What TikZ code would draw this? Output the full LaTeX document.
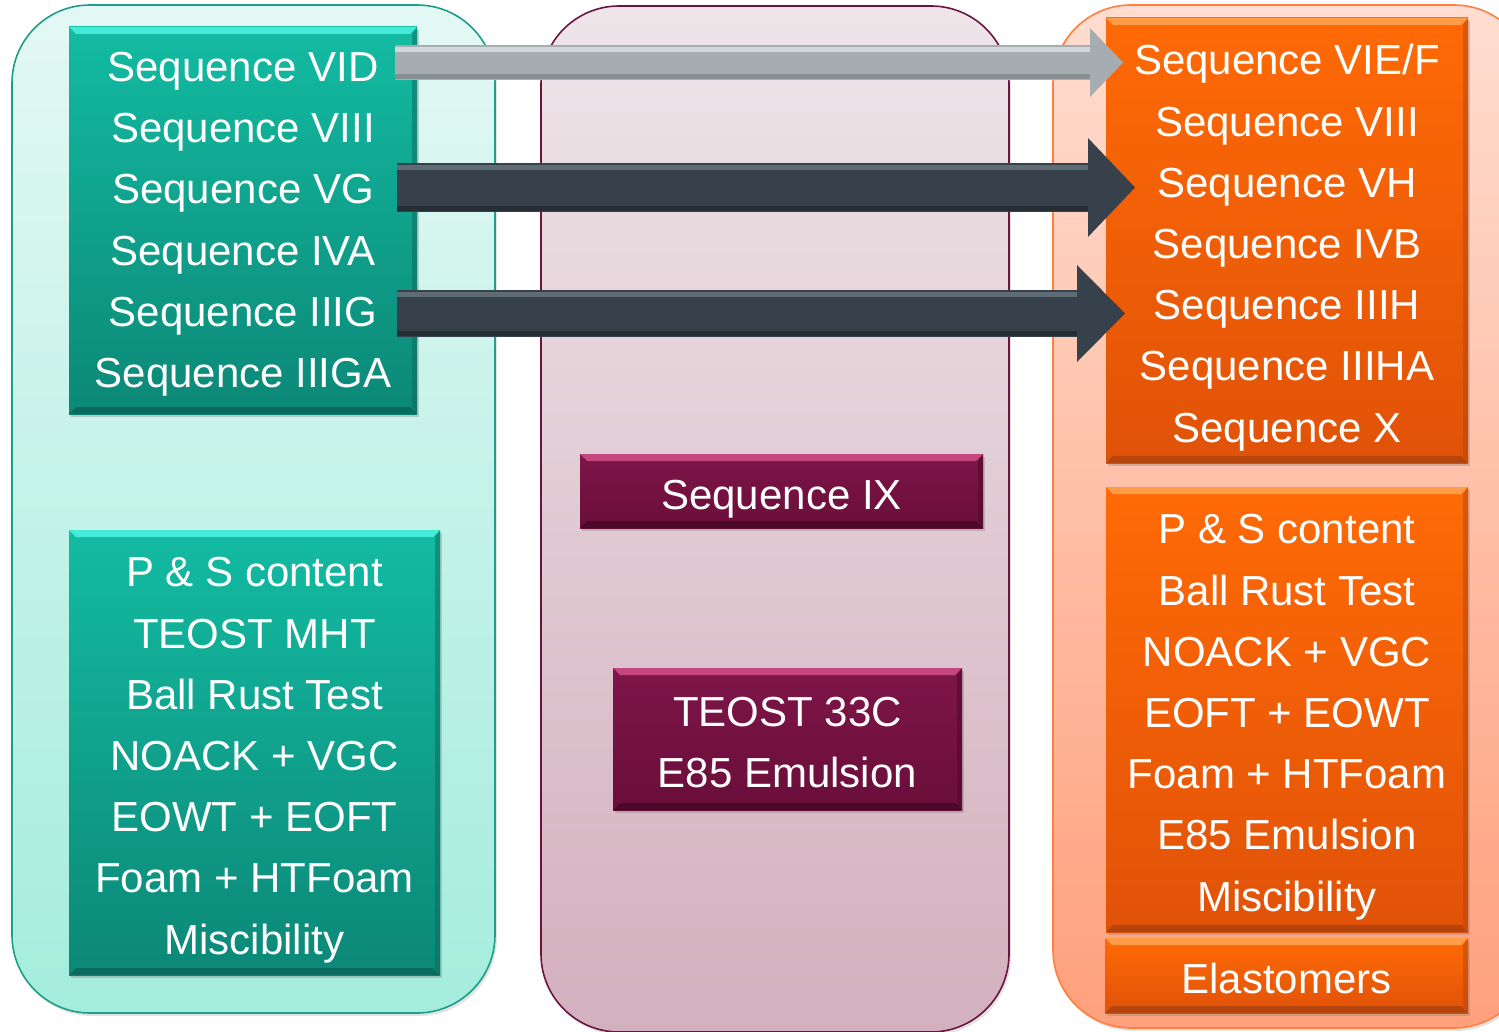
\documentclass[tikz,border=0pt]{standalone}
\usepackage{fontspec}
\setmainfont{Liberation Sans}
\usetikzlibrary{arrows.meta,shadows}
\definecolor{tealT}{HTML}{13BBA2}
\definecolor{tealB}{HTML}{0C8877}
\definecolor{tealHi}{HTML}{45EBD8}
\definecolor{tealLo}{HTML}{0A6A5D}
\definecolor{oraT}{HTML}{FF6A06}
\definecolor{oraB}{HTML}{E05208}
\definecolor{oraHi}{HTML}{FF9C48}
\definecolor{oraLo}{HTML}{B5450C}
\definecolor{marT}{HTML}{7E1548}
\definecolor{marB}{HTML}{6A0E3A}
\definecolor{marHi}{HTML}{C4477F}
\definecolor{marLo}{HTML}{4C0828}
\definecolor{lpT}{HTML}{E3F8F4}
\definecolor{lpB}{HTML}{A4EDDC}
\definecolor{lpD}{HTML}{1C9E8A}
\definecolor{mpT}{HTML}{EEE5E9}
\definecolor{mpB}{HTML}{D3B0BD}
\definecolor{mpD}{HTML}{6B1442}
\definecolor{rpT}{HTML}{FFDDD0}
\definecolor{rpB}{HTML}{FFA07C}
\definecolor{rpD}{HTML}{FF7F3F}
\definecolor{arrDark}{HTML}{36414B}
\definecolor{arrDarkHi}{HTML}{5F6B75}
\definecolor{arrDarkLo}{HTML}{262E35}
\definecolor{arrGray}{HTML}{A6ADB1}
\definecolor{arrGrayHi}{HTML}{D2D7DA}
\definecolor{arrGrayLo}{HTML}{868E92}
\newcommand{\tstr}{\rule{0pt}{45pt}}
\newcommand{\tstrb}{\rule{0pt}{37pt}}
\newcommand{\bstr}{\rule[-9pt]{0pt}{9pt}}
\tikzset{
  panel/.style={rounded corners=78pt, line width=1.6pt,
    drop shadow={opacity=0.22, shadow xshift=2pt, shadow yshift=-3pt}},
  box/.style={rectangle, inner sep=0pt, text=white, align=center,
    font=\fontsize{42}{61.2}\selectfont,
    drop shadow={opacity=0.35, shadow xshift=2pt, shadow yshift=-3pt}},
  bevel/.style n args={2}{path picture={
      \fill[#1] (path picture bounding box.north west) -- (path picture bounding box.north east)
        -- ([shift={(-7pt,-7pt)}]path picture bounding box.north east)
        -- ([shift={(7pt,-7pt)}]path picture bounding box.north west) -- cycle;
      \fill[#2] (path picture bounding box.south west) -- (path picture bounding box.south east)
        -- ([shift={(-7pt,7pt)}]path picture bounding box.south east)
        -- ([shift={(7pt,7pt)}]path picture bounding box.south west) -- cycle;
      \fill[#2, opacity=0.5] (path picture bounding box.north east) -- (path picture bounding box.south east)
        -- ([shift={(-5pt,7pt)}]path picture bounding box.south east)
        -- ([shift={(-5pt,-7pt)}]path picture bounding box.north east) -- cycle;
  }},
  tealbox/.style={box, top color=tealT, bottom color=tealB, bevel={tealHi}{tealLo}},
  orabox/.style={box, top color=oraT, bottom color=oraB, bevel={oraHi}{oraLo}},
  marbox/.style={box, top color=marT, bottom color=marB, bevel={marHi}{marLo}},
  bigarrow/.style n args={3}{line width=#1, line cap=butt,
    -{Triangle[width=#2 0 0, length=#3 0 0, line width=0pt 0 0]}},
  shaftline/.style={line width=5pt, line cap=butt},
}
\begin{document}
\begin{tikzpicture}[x=1pt, y=-1pt]
\useasboundingbox (0,0) rectangle (1499,1032);
\clip (0,0) rectangle (1499,1032);
% panels
\draw[panel, top color=lpT, bottom color=lpB, draw=lpD] (12,5) rectangle (495,1013);
\draw[panel, top color=mpT, bottom color=mpB, draw=mpD] (541,6) rectangle (1009,1032);
\draw[panel, top color=rpT, bottom color=rpB, draw=rpD] (1053,5) rectangle (1532,1028);
% left boxes
\node[tealbox, minimum width=348pt, minimum height=387pt] (tl) at (243,220.5)
  {\tstrb Sequence VID\\Sequence VIII\\Sequence VG\\Sequence IVA\\Sequence IIIG\\Sequence IIIGA\bstr};
\node[tealbox, minimum width=371pt, minimum height=445pt] (bl) at (254.5,752.5)
  {\tstr P \& S content\\TEOST MHT\\Ball Rust Test\\NOACK + VGC\\EOWT + EOFT\\Foam + HTFoam\\Miscibility\bstr};
% middle boxes
\node[marbox, minimum width=403pt, minimum height=74pt] (ix) at (781.5,491)
  {\tstr Sequence IX\bstr};
\node[marbox, minimum width=349pt, minimum height=142pt] (teost) at (787.5,739)
  {\tstr TEOST 33C\\E85 Emulsion\bstr};
% right boxes
\node[orabox, minimum width=362pt, minimum height=445pt] (tr) at (1287,240.5)
  {\tstr Sequence VIE/F\\Sequence VIII\\Sequence VH\\Sequence IVB\\Sequence IIIH\\Sequence IIIHA\\Sequence X\bstr};
\node[orabox, minimum width=362pt, minimum height=445pt] (mr) at (1287,709.5)
  {\tstr P \& S content\\Ball Rust Test\\NOACK + VGC\\EOFT + EOWT\\Foam + HTFoam\\E85 Emulsion\\Miscibility\bstr};
\node[orabox, minimum width=363pt, minimum height=75pt] (el) at (1286.5,975.5)
  {\tstr Elastomers\bstr};
% arrows
\coordinate (a1s) at (395,62.5);
\coordinate (a1e) at (1123,62.5);
\coordinate (a2s) at (397,187.5);
\coordinate (a2e) at (1135,187.5);
\coordinate (a3s) at (397,313.5);
\coordinate (a3e) at (1125,313.5);
\draw[bigarrow={35pt}{69pt}{33pt}, draw=arrGray, fill=arrGray] (a1s) -- (a1e);
\draw[shaftline, arrGrayHi] ([yshift=13pt]a1s) -- ([shift={(-33pt,13pt)}]a1e);
\draw[shaftline, arrGrayLo] ([yshift=-14pt]a1s) -- ([shift={(-33pt,-14pt)}]a1e);
\draw[bigarrow={49pt}{99pt}{47pt}, draw=arrDark, fill=arrDark] (a2s) -- (a2e);
\draw[shaftline, arrDarkHi] ([yshift=20pt]a2s) -- ([shift={(-47pt,20pt)}]a2e);
\draw[shaftline, arrDarkLo] ([yshift=-21pt]a2s) -- ([shift={(-47pt,-21pt)}]a2e);
\draw[bigarrow={47pt}{97pt}{48pt}, draw=arrDark, fill=arrDark] (a3s) -- (a3e);
\draw[shaftline, arrDarkHi] ([yshift=19pt]a3s) -- ([shift={(-48pt,19pt)}]a3e);
\draw[shaftline, arrDarkLo] ([yshift=-20pt]a3s) -- ([shift={(-48pt,-20pt)}]a3e);
\end{tikzpicture}
\end{document}
